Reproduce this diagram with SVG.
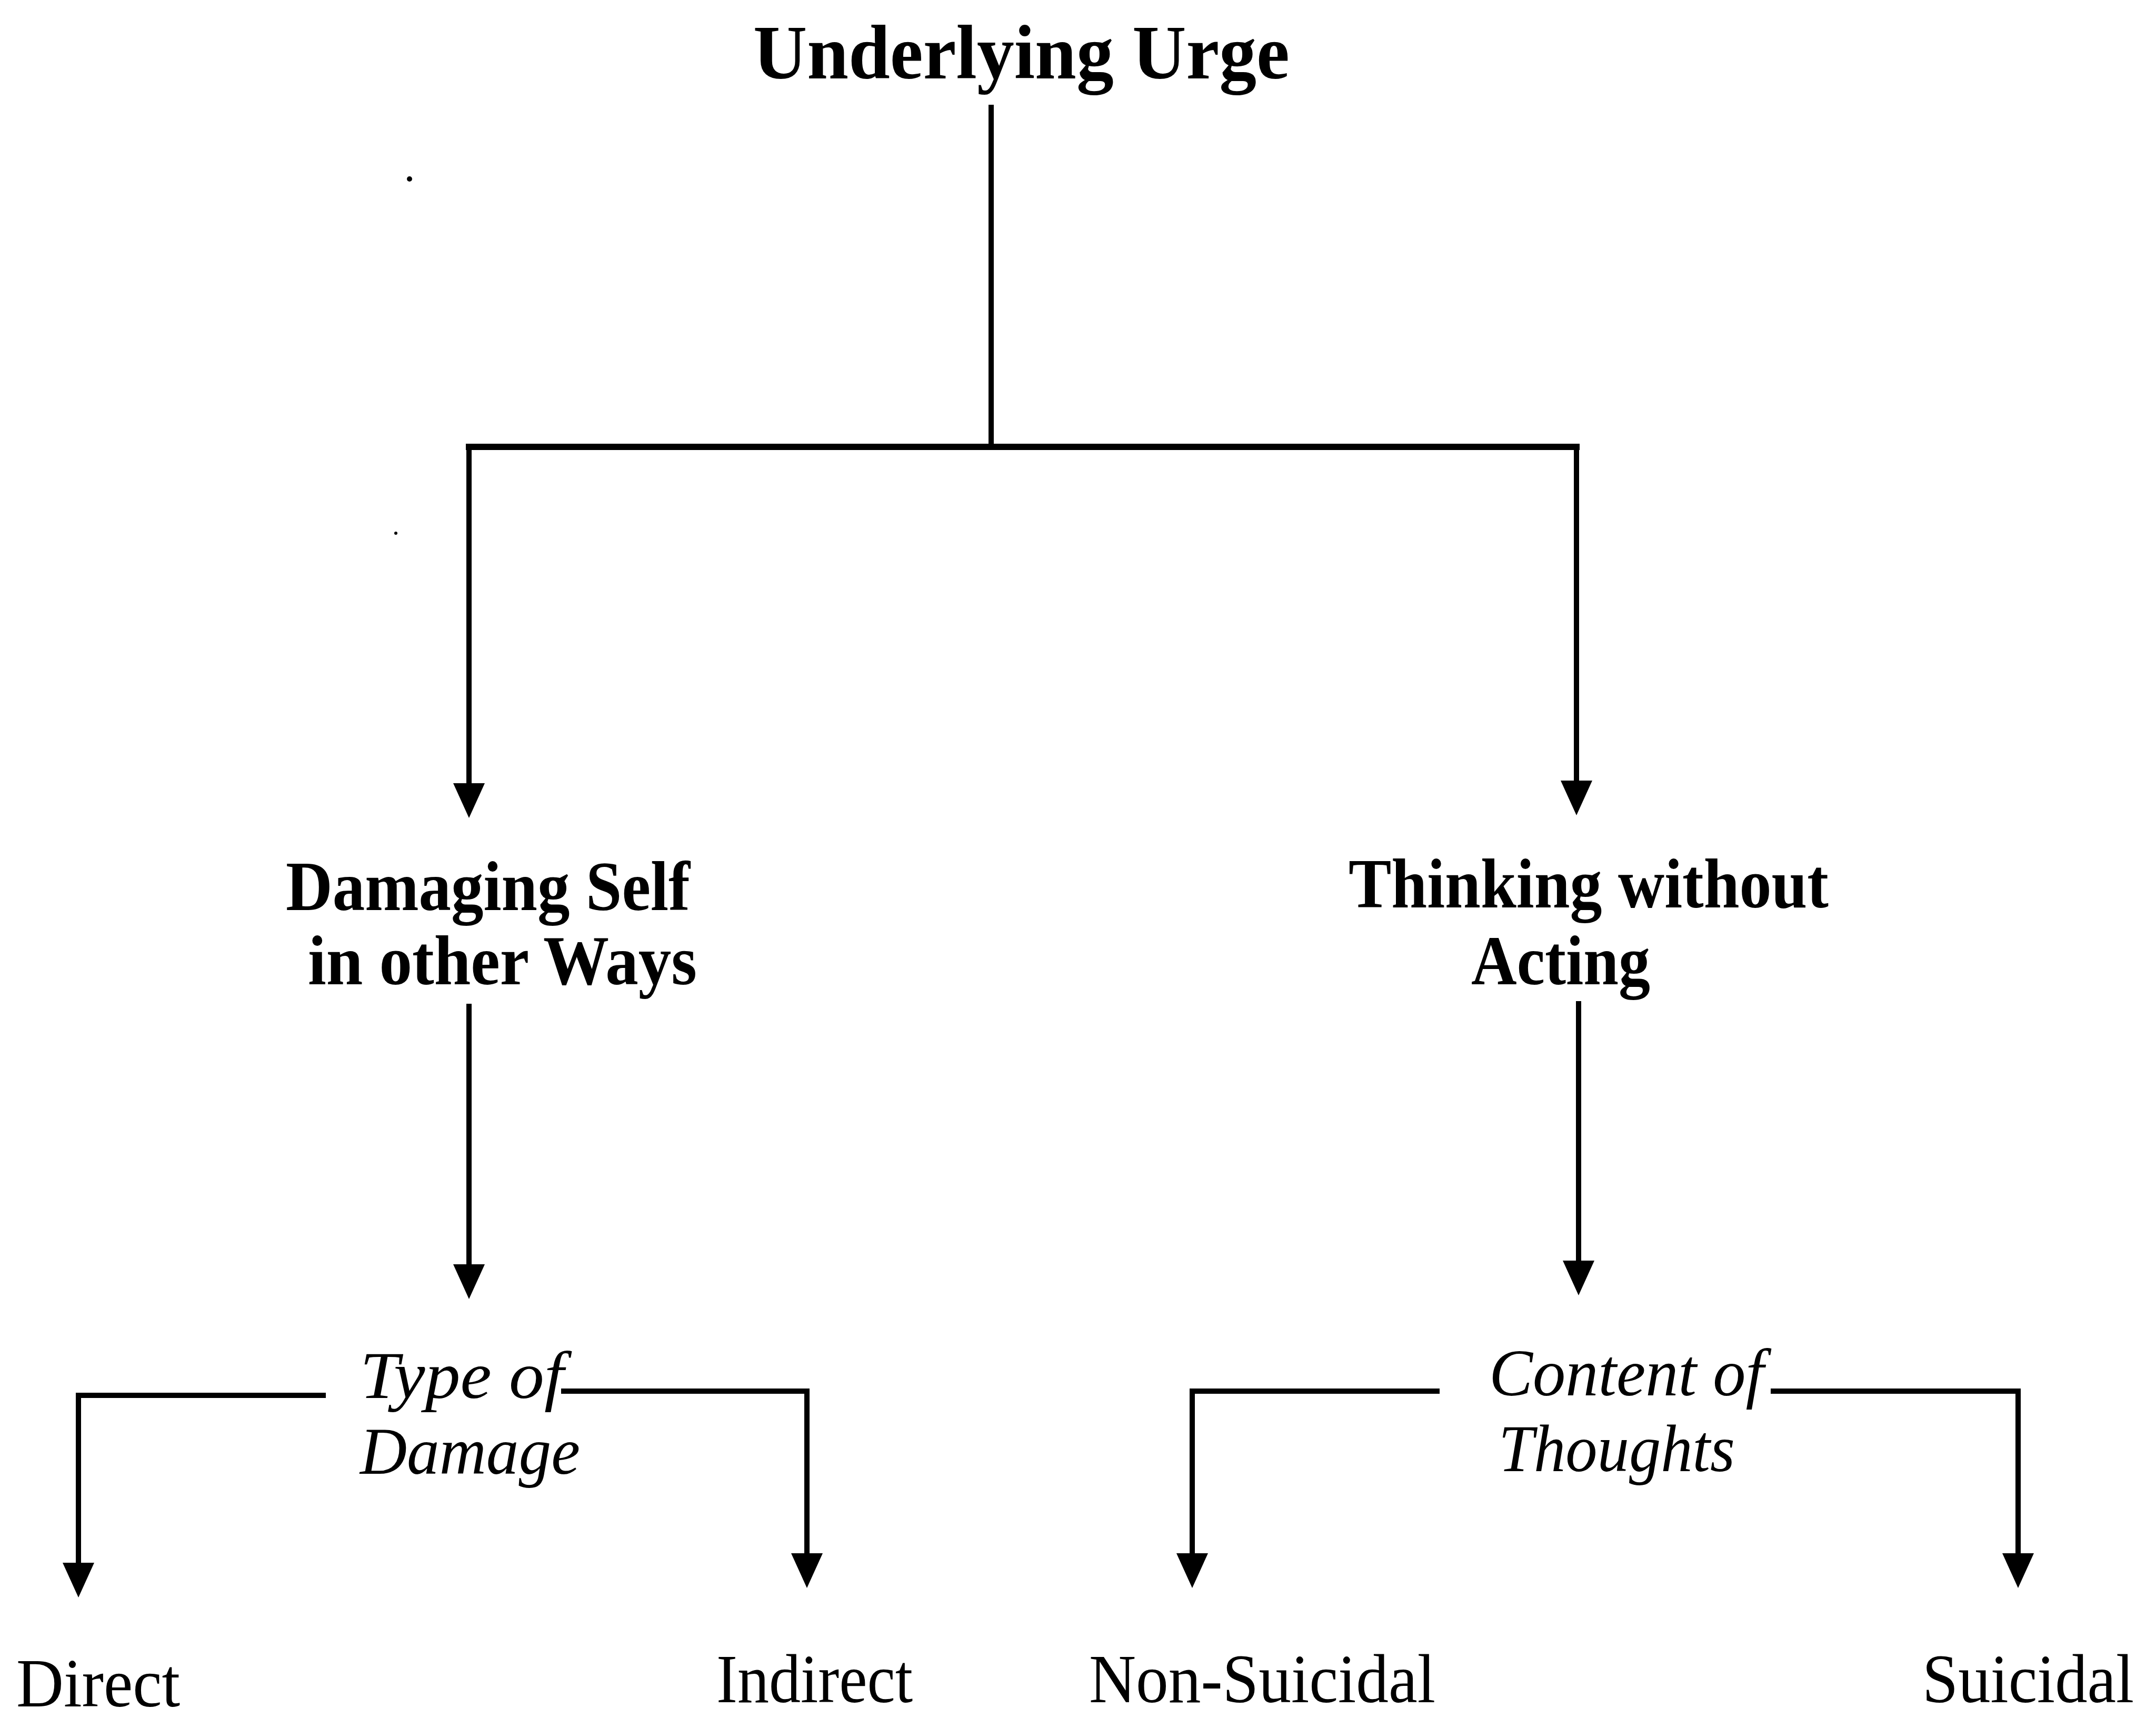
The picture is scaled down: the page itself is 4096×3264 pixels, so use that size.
<svg xmlns="http://www.w3.org/2000/svg" width="4096" height="3264" viewBox="0 0 4096 3264">
  <defs>
    <style>
      .title { font-family: "Liberation Serif", "Times New Roman", serif; font-weight: bold; font-size: 146px; fill: #000; }
      .bold { font-family: "Liberation Serif", "Times New Roman", serif; font-weight: bold; font-size: 134px; fill: #000; }
      .ital { font-family: "Liberation Serif", "Times New Roman", serif; font-style: italic; font-size: 126px; fill: #000; }
      .leaf { font-family: "Liberation Serif", "Times New Roman", serif; font-size: 132px; fill: #000; }
      .wire { fill: none; stroke: #000; stroke-width: 10; stroke-linecap: square; }
      .arrow { fill: none; stroke: #000; stroke-width: 10; marker-end: url(#head); }
    </style>
    <marker id="head" viewBox="0 0 66 60" markerUnits="userSpaceOnUse" markerWidth="66" markerHeight="60" refX="36" refY="30" orient="auto">
      <path d="M0,0 L66,30 L0,60 Z" fill="#000"/>
    </marker>
  </defs>
  <rect width="4096" height="3264" fill="#fff"/>

  <!-- connectors -->
  <g id="connectors">
    <!-- root stem and split -->
    <line class="wire" x1="1883" y1="204" x2="1883" y2="849"/>
    <line class="wire" x1="891" y1="849" x2="2995" y2="849" style="stroke-width:12"/>
    <line class="arrow" x1="891" y1="849" x2="891" y2="1524"/>
    <line class="arrow" x1="2995" y1="849" x2="2995" y2="1519"/>
    <!-- second level -->
    <line class="arrow" x1="891" y1="1907" x2="891" y2="2438"/>
    <line class="arrow" x1="2999" y1="1902" x2="2999" y2="2431"/>
    <!-- type of damage split -->
    <polyline class="wire" points="614,2651 149,2651 149,2700"/>
    <line class="arrow" x1="149" y1="2651" x2="149" y2="3005"/>
    <polyline class="wire" points="1071,2643 1533,2643 1533,2700"/>
    <line class="arrow" x1="1533" y1="2643" x2="1533" y2="2987"/>
    <!-- content of thoughts split -->
    <polyline class="wire" points="2730,2643 2265,2643 2265,2700"/>
    <line class="arrow" x1="2265" y1="2643" x2="2265" y2="2987"/>
    <polyline class="wire" points="3369,2643 3834,2643 3834,2700"/>
    <line class="arrow" x1="3834" y1="2643" x2="3834" y2="2987"/>
  </g>

  <!-- nodes -->
  <g id="node-root">
    <text class="title" x="1431" y="149" textLength="1019" lengthAdjust="spacingAndGlyphs">Underlying Urge</text>
  </g>
  <g id="node-damaging">
    <text class="bold" x="543" y="1729" textLength="768" lengthAdjust="spacingAndGlyphs">Damaging Self</text>
    <text class="bold" x="585" y="1870" textLength="739" lengthAdjust="spacingAndGlyphs">in other Ways</text>
  </g>
  <g id="node-thinking">
    <text class="bold" x="2562" y="1724" textLength="912" lengthAdjust="spacingAndGlyphs">Thinking without</text>
    <text class="bold" x="2795" y="1870" textLength="340" lengthAdjust="spacingAndGlyphs">Acting</text>
  </g>
  <g id="node-type">
    <text class="ital" x="684" y="2656" textLength="387" lengthAdjust="spacingAndGlyphs">Type of</text>
    <text class="ital" x="684" y="2800" textLength="418" lengthAdjust="spacingAndGlyphs">Damage</text>
  </g>
  <g id="node-content">
    <text class="ital" x="2829" y="2651" textLength="522" lengthAdjust="spacingAndGlyphs">Content of</text>
    <text class="ital" x="2847" y="2795" textLength="449" lengthAdjust="spacingAndGlyphs">Thoughts</text>
  </g>
  <g id="node-direct">
    <text class="leaf" x="31" y="3242" textLength="311" lengthAdjust="spacingAndGlyphs">Direct</text>
  </g>
  <g id="node-indirect">
    <text class="leaf" x="1361" y="3234" textLength="373" lengthAdjust="spacingAndGlyphs">Indirect</text>
  </g>
  <g id="node-nonsuicidal">
    <text class="leaf" x="2069" y="3234" textLength="658" lengthAdjust="spacingAndGlyphs">Non-Suicidal</text>
  </g>
  <g id="node-suicidal">
    <text class="leaf" x="3652" y="3234" textLength="402" lengthAdjust="spacingAndGlyphs">Suicidal</text>
  </g>

  <!-- specks -->
  <circle cx="778" cy="340" r="5" fill="#000"/>
  <circle cx="752" cy="1013" r="3" fill="#000"/>
</svg>
